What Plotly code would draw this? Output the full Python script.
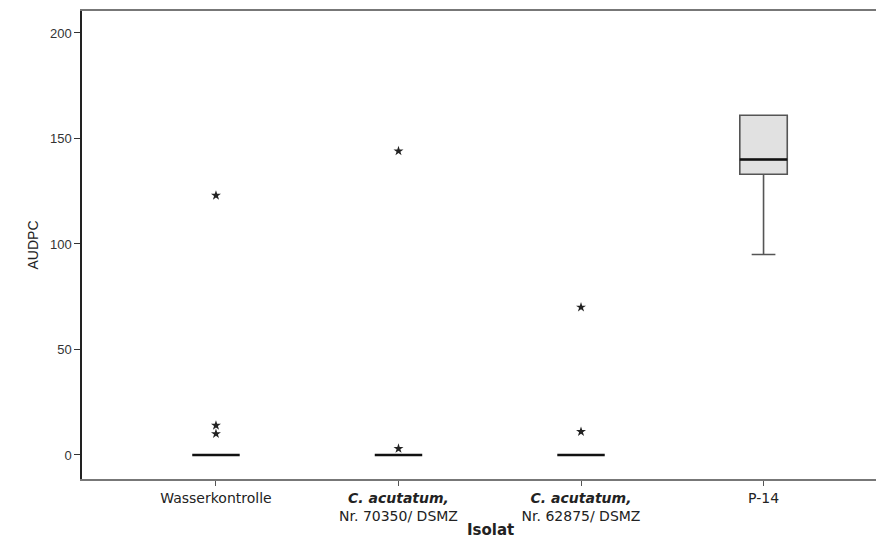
import plotly.graph_objects as go

# ---- data ----
categories = ["Wasserkontrolle", "C. acutatum 70350", "C. acutatum 62875", "P-14"]
tick_labels = [
    "Wasserkontrolle",
    "<b><i>C. acutatum,</i></b><br>Nr. 70350/ DSMZ",
    "<b><i>C. acutatum,</i></b><br>Nr. 62875/ DSMZ",
    "P-14",
]
q1 = [0, 0, 0, 133]
median = [0, 0, 0, 140]
q3 = [0, 0, 0, 161]
lower_whisker = [0, 0, 0, 95]
upper_whisker = [0, 0, 0, 161]

outlier_cats = ["Wasserkontrolle", "Wasserkontrolle", "Wasserkontrolle",
                "C. acutatum 70350", "C. acutatum 70350",
                "C. acutatum 62875", "C. acutatum 62875"]
outlier_vals = [123, 14, 10, 144, 3, 70, 11]

fig = go.Figure()

# box with spread (P-14)
fig.add_trace(go.Box(
    x=[categories[3]], q1=[q1[3]], median=[median[3]], q3=[q3[3]],
    lowerfence=[lower_whisker[3]], upperfence=[upper_whisker[3]],
    width=0.26, whiskerwidth=0.5, fillcolor="#e1e1e1",
    line=dict(color="#555555", width=1.6), boxpoints=False,
    hoverinfo="skip", showlegend=False,
))
# median bars (and degenerate all-zero boxes) as thick black lines
fig.add_trace(go.Box(
    x=categories, q1=median, median=median, q3=median,
    lowerfence=median, upperfence=median,
    width=0.26, whiskerwidth=0, fillcolor="rgba(0,0,0,0)",
    line=dict(color="#111111", width=2.6), boxpoints=False,
    hoverinfo="skip", showlegend=False,
))

# extreme values (stars)
fig.add_trace(go.Scatter(
    x=outlier_cats, y=outlier_vals, mode="markers",
    marker=dict(symbol="star", size=7.5, color="#222222", line=dict(width=0)),
    hoverinfo="skip", showlegend=False,
))

# page body has an 8px margin, so the figure is sized/offset to compensate
fig.update_layout(
    width=876, height=531,
    margin=dict(l=74, r=0, t=3, b=60, autoexpand=False),
    paper_bgcolor="white", plot_bgcolor="white",
    font=dict(family="DejaVu Sans", color="#222222"),
    boxmode="overlay",
    annotations=[dict(
        text="<b>Isolat</b>", xref="paper", yref="paper",
        x=0.509, y=-0.109, xanchor="center", yanchor="middle",
        showarrow=False,
        font=dict(family="DejaVu Sans", size=15, color="#222222"),
    )],
)
fig.update_xaxes(
    type="category", categoryorder="array", categoryarray=categories,
    tickvals=categories, ticktext=tick_labels,
    range=[-0.734, 3.66],
    showline=True, linecolor="#777777", linewidth=1.5, mirror=True,
    ticks="outside", ticklen=5, tickcolor="#555555",
    showgrid=False, zeroline=False, automargin=False,
    tickfont=dict(family="DejaVu Sans", size=14, color="#222222"),
)
fig.update_yaxes(
    range=[-11.4, 210.4],
    tickvals=[0, 50, 100, 150, 200],
    showline=True, linecolor="#222222", linewidth=1.5,
    ticks="outside", ticklen=6, tickcolor="#333333",
    showgrid=False, zeroline=False, automargin=False,
    tickfont=dict(family="Liberation Sans", size=13, color="#333333"),
    title=dict(text="AUDPC", standoff=8,
               font=dict(family="Liberation Sans", size=14, color="#222222")),
)

fig.write_html("out.html")
